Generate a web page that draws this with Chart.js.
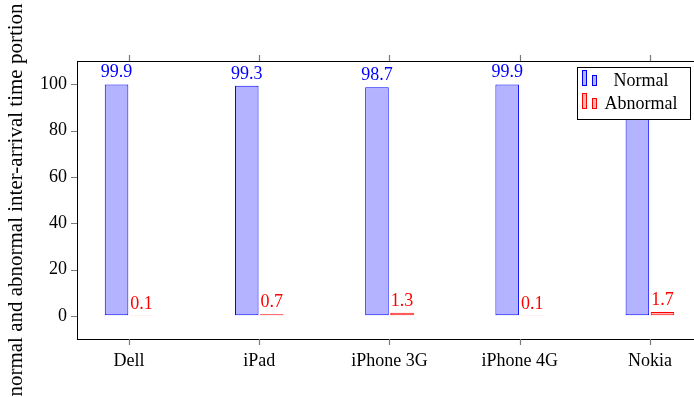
<!DOCTYPE html>
<html>
<head>
<meta charset="utf-8">
<script src="https://cdn.jsdelivr.net/npm/chart.js@4.4.0/dist/chart.umd.min.js"></script>
<style>
  html, body { margin: 0; padding: 0; overflow: hidden; background: #fff; }
  #wrap { width: 702px; height: 397px; }
</style>
</head>
<body>
<div id="wrap"><canvas id="myChart"></canvas></div>
<script>
// devices and the share of normal / abnormal inter-arrival times (%)
const devices = ['Dell', 'iPad', 'iPhone 3G', 'iPhone 4G', 'Nokia'];
const normalPortion = [99.9, 99.3, 98.7, 99.9, 98.3];
const abnormalPortion = [0.1, 0.7, 1.3, 0.1, 1.7];
const yTicks = [0, 20, 40, 60, 80, 100];
const seriesNames = ['Normal', 'Abnormal'];

const serif = "'Liberation Serif', 'DejaVu Serif', serif";
const blue = 'rgb(0, 0, 255)';
const red = 'rgb(255, 0, 0)';
const tickGray = '#7a7a7a';

// linear x so the groups can sit closer to the edges than a category scale allows
const toPoints = (arr) => arr.map((v, i) => ({ x: i, y: v }));
const deviceTicks = (scale) => { scale.ticks = devices.map((_, i) => ({ value: i })); };

// value written above each bar
const barLabels = {
  id: 'barLabels',
  afterDatasetsDraw(chart) {
    const ctx = chart.ctx;
    ctx.save();
    ctx.font = '18px ' + serif;
    ctx.textAlign = 'center';
    ctx.textBaseline = 'alphabetic';
    chart.data.datasets.forEach((ds, di) => {
      chart.getDatasetMeta(di).data.forEach((bar, i) => {
        ctx.fillStyle = ds.borderColor;
        ctx.fillText(ds.data[i].y.toFixed(1), bar.x, bar.y - 7);
      });
    });
    ctx.restore();
  }
};

// short outward tick marks on the left, bottom and top axes
const outerTicks = {
  id: 'outerTicks',
  afterDraw(chart) {
    const ctx = chart.ctx;
    const area = chart.chartArea;
    const sx = chart.scales.x;
    const sy = chart.scales.y;
    ctx.save();
    ctx.strokeStyle = tickGray;
    ctx.lineWidth = 1.2;
    ctx.beginPath();
    sy.ticks.forEach((t) => {
      const py = Math.round(sy.getPixelForValue(t.value)) + 0.5;
      ctx.moveTo(area.left - 6, py);
      ctx.lineTo(area.left, py);
    });
    sx.ticks.forEach((t) => {
      const px = Math.round(sx.getPixelForValue(t.value)) + 0.5;
      ctx.moveTo(px, area.bottom);
      ctx.lineTo(px, area.bottom + 6);
      ctx.moveTo(px, area.top - 6);
      ctx.lineTo(px, area.top);
    });
    ctx.stroke();
    ctx.restore();
  }
};

// boxed legend in the upper right corner, pgfplots style bar icons
const boxLegend = {
  id: 'boxLegend',
  afterDraw(chart) {
    const ctx = chart.ctx;
    const area = chart.chartArea;
    const w = 113, h = 52;
    const left = area.right - 12 - w;
    const top = area.top + 6;
    ctx.save();
    ctx.fillStyle = '#fff';
    ctx.fillRect(left, top, w, h);
    ctx.strokeStyle = '#000';
    ctx.lineWidth = 1;
    ctx.strokeRect(left + 0.5, top + 0.5, w, h);
    ctx.font = '18px ' + serif;
    ctx.textAlign = 'center';
    ctx.textBaseline = 'middle';
    chart.data.datasets.forEach((ds, i) => {
      const cy = top + 13 + i * 23;
      ctx.fillStyle = ds.backgroundColor;
      ctx.strokeStyle = ds.borderColor;
      ctx.fillRect(left + 5, cy - 10, 4, 15);
      ctx.strokeRect(left + 5.5, cy - 9.5, 4, 15);
      ctx.fillRect(left + 15, cy - 5, 4, 10);
      ctx.strokeRect(left + 15.5, cy - 4.5, 4, 10);
      ctx.fillStyle = '#000';
      ctx.fillText(ds.label, left + 64, cy + 1);
    });
    ctx.restore();
  }
};

const config = {
  type: 'bar',
  data: {
    datasets: [
      {
        label: seriesNames[0],
        data: toPoints(normalPortion),
        backgroundColor: 'rgb(179, 179, 255)',
        borderColor: blue,
        borderWidth: 1,
        borderSkipped: false
      },
      {
        label: seriesNames[1],
        data: toPoints(abnormalPortion),
        backgroundColor: 'rgb(255, 179, 179)',
        borderColor: red,
        borderWidth: 1,
        borderSkipped: false
      }
    ]
  },
  options: {
    responsive: true,
    maintainAspectRatio: false,
    animation: false,
    datasets: { bar: { categoryPercentage: 0.385, barPercentage: 0.94 } },
    layout: { padding: 0 },
    plugins: {
      legend: { display: false },
      tooltip: { enabled: false }
    },
    scales: {
      x: {
        type: 'linear',
        position: 'bottom',
        offset: false,
        min: -0.4,
        max: 4.4,
        afterBuildTicks: deviceTicks,
        afterFit: (s) => { s.height = 58; },
        grid: { offset: false, drawOnChartArea: false, drawTicks: false },
        border: { color: '#000', width: 1 },
        ticks: {
          color: '#000',
          font: { family: serif, size: 18 },
          padding: 11,
          maxRotation: 0,
          autoSkip: false,
          callback: (v) => devices[v]
        }
      },
      xTop: {
        type: 'linear',
        position: 'top',
        offset: false,
        min: -0.4,
        max: 4.4,
        afterBuildTicks: deviceTicks,
        afterFit: (s) => { s.height = 61; },
        grid: { offset: false, drawOnChartArea: false, drawTicks: false },
        border: { color: '#000', width: 1 },
        ticks: { display: false }
      },
      y: {
        min: -10,
        max: 110,
        afterBuildTicks: (s) => { s.ticks = yTicks.map((v) => ({ value: v })); },
        afterFit: (s) => { s.width = 77; },
        grid: { drawOnChartArea: false, drawTicks: false },
        border: { color: '#000', width: 1 },
        ticks: {
          color: '#000',
          font: { family: serif, size: 18 },
          padding: 10
        },
        title: {
          display: true,
          text: 'normal and abnormal inter-arrival time portion',
          color: '#000',
          font: { family: serif, size: 21 },
          padding: { top: 4, bottom: 0 }
        }
      }
    }
  },
  plugins: [barLabels, outerTicks, boxLegend]
};

const ctx = document.getElementById('myChart').getContext('2d');
const myChart = new Chart(ctx, config);
</script>
</body>
</html>
